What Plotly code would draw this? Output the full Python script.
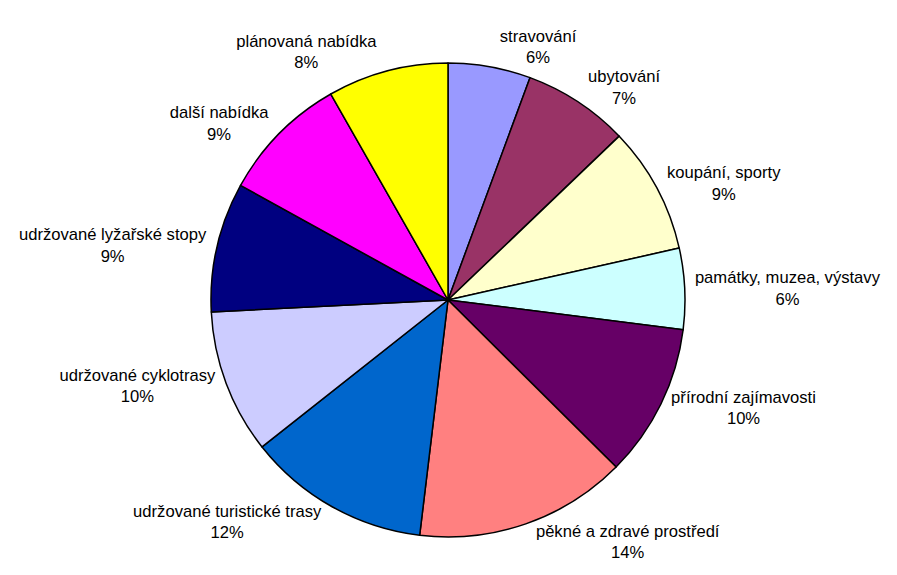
import plotly.graph_objects as go

labels = ["stravování", "ubytování", "koupání, sporty", "památky, muzea, výstavy",
          "přírodní zajímavosti", "pěkné a zdravé prostředí", "udržované turistické trasy",
          "udržované cyklotrasy", "udržované lyžařské stopy", "další nabídka", "plánovaná nabídka"]
values = [5.6, 7.2, 8.6, 5.5, 10.4, 14.4, 12.4, 9.8, 8.8, 8.7, 8.2]
colors = ["#9999FF", "#993366", "#FFFFCC", "#CCFFFF", "#660066", "#FF8080",
          "#0066CC", "#CCCCFF", "#000080", "#FF00FF", "#FFFF00"]

W, H = 897, 575
# page body has an 8px margin, so the pie centre is given in figure coordinates
cx, cy, r = 440, 292, 237

fig = go.Figure()
fig.add_trace(go.Pie(labels=labels, values=values, sort=False, direction="clockwise", rotation=0,
                     marker=dict(colors=colors, line=dict(color="black", width=1.5)),
                     textposition="outside", texttemplate="%{label}<br>%{percent:.0%}",
                     textfont=dict(family="Liberation Sans, Arial", size=16.6, color="black"),
                     domain=dict(x=[(cx - r) / W, (cx + r) / W], y=[(H - cy - r) / H, (H - cy + r) / H]),
                     hoverinfo="label+percent"))
fig.update_layout(width=W, height=H, margin=dict(l=0, r=0, t=0, b=0), showlegend=False,
                  paper_bgcolor="white", plot_bgcolor="white")
fig.write_html("out.html")
